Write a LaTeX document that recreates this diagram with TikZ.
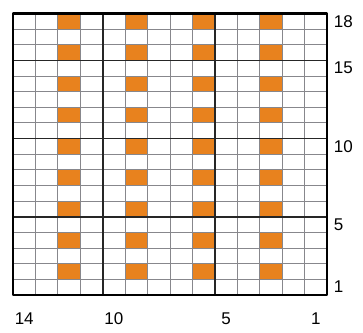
\documentclass[tikz,border=0pt]{standalone}
\usepackage{fontspec}
\setmainfont{Liberation Sans}
\usepackage{tikz}
\usetikzlibrary{positioning}
\definecolor{stitch}{RGB}{232,130,30}
\definecolor{gridgray}{RGB}{135,135,140}
\tikzset{
  thinline/.style={draw=gridgray, line width=0.9pt},
  fiveline/.style={draw=black!85, line width=1.6pt},
  frameline/.style={draw=black, line width=2.6pt, line join=round},
  numlabel/.style={font=\fontsize{17}{17}\selectfont, inner sep=0pt}}

\begin{document}
\begin{tikzpicture}[x=22.43pt, y=15.64pt]
  \useasboundingbox (-0.58,-2.43) rectangle (15.605,18.86);
    % coloured stitches, every second row
    \foreach \c in {3,6,9,12}
      \foreach \r in {2,4,...,18}
        \fill [stitch] (14-\c,\r-1) rectangle (15-\c,\r);
    % one line per stitch
    \foreach \x in {1,...,13} \draw [thinline] (\x,0) -- (\x,18);
    \foreach \y in {1,...,17} \draw [thinline] (0,\y) -- (14,\y);
          \foreach \x in {4,9} \draw [fiveline] (\x,0) -- (\x,18);
          \foreach \y in {5,10,15} \draw [fiveline] (0,\y) -- (14,\y);
    \draw [frameline] (0,0) rectangle (14,18);
    % row numbers
    \foreach \r in {1,5,10,15,18}
      \node [numlabel, anchor=west] (row\r) at (14.3,\r-0.5) {\r};
    % column numbers
    \foreach \c in {1,5,10,14}
      \node [numlabel] (col\c) at (14.5-\c,-1.5) {\c};
\end{tikzpicture}
\end{document}
